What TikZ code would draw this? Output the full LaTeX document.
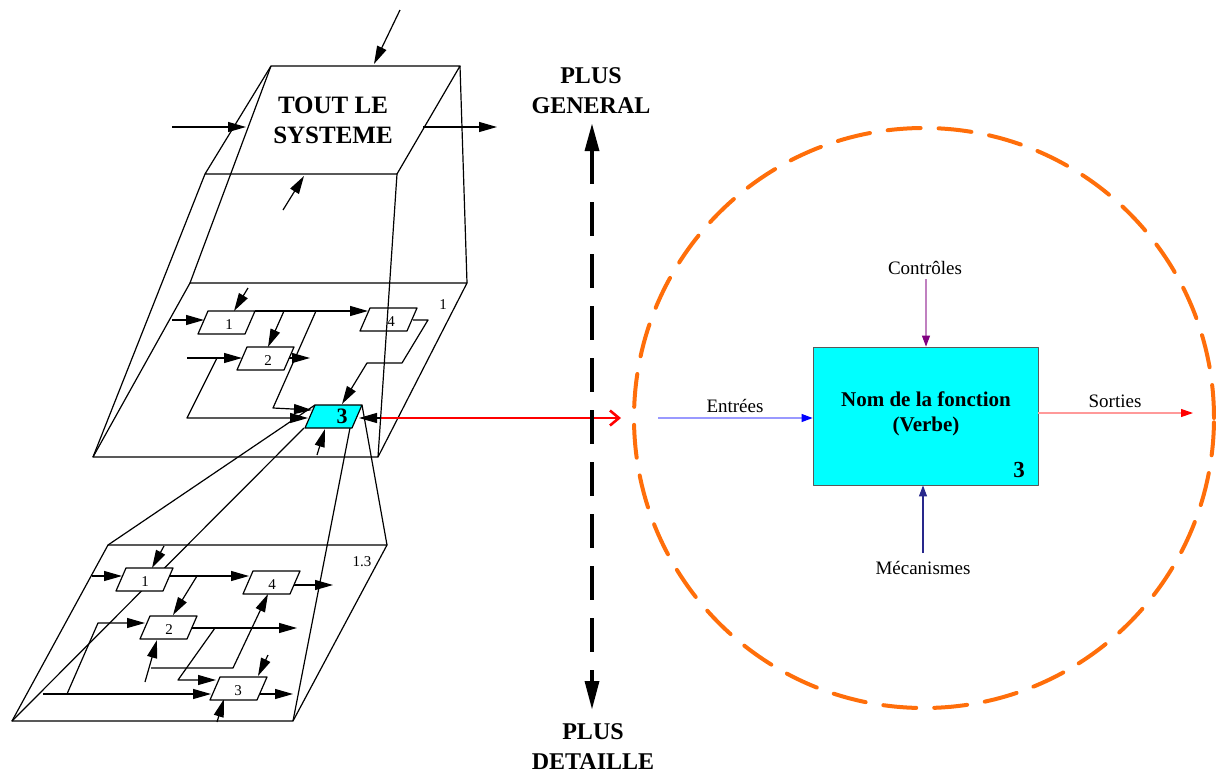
\documentclass[tikz,border=0pt]{standalone}
\usepackage{fontspec}
\setmainfont{Liberation Serif}
\usetikzlibrary{arrows.meta}
\definecolor{orng}{RGB}{255,110,10}
\definecolor{cyanf}{RGB}{0,255,255}
\definecolor{navyl}{RGB}{40,40,140}
\definecolor{purp}{RGB}{128,0,128}
\newcommand\pgbox[3][white]{\draw[line width=1.2pt,fill=#1] (#2,#3) -- ++(47,0) -- ++(-10,23) -- ++(-47,0) -- cycle;}
\begin{document}
\begin{tikzpicture}[x=1pt,y=-1pt,line join=round,
  pl/.style={line width=1.2pt},
  arr/.style={line width=1.2pt,-{Triangle[length=18pt,width=10pt]}},
  dig/.style={font=\fontsize{15}{17}\selectfont,inner sep=0pt},
  big/.style={font=\fontsize{24}{30}\selectfont\bfseries,align=center,inner sep=0pt},
  rt/.style={font=\fontsize{19}{22}\selectfont,inner sep=0pt},
  thin/.style={line width=1.1pt}]
\useasboundingbox (0,0) rectangle (1216,774);

% ---------- planes ----------
\draw[pl] (190,283) -- (467,283) -- (378,457) -- (93,457) -- cycle;
\draw[pl] (108,545) -- (387,545) -- (293,721) -- (12,721) -- cycle;
\node[dig] (lab1) at (443,305) {1};
\node[dig] (lab13) at (362,562) {1.3};

% ---------- frustum box 3 -> lower plane ----------
\draw[pl] (315,405) -- (108,545);
\draw[pl] (304,428) -- (12,721);
\draw[pl] (350,428) -- (293,721);
\draw[pl] (362,405) -- (387,545);

% ---------- lower plane arrows ----------
\draw[arr] (164,546) -- (152,568);
\draw[arr] (92,576) -- (122,576);
\draw[arr] (170,576) -- (249,576);
\draw[arr] (197,576) -- (173,615);
\draw[arr] (292,585) -- (333,585);
\draw[arr] (190,628) -- (297,628);
\draw[arr] (215,628) -- (178,680) -- (216,680);
\draw[arr] (43,694) -- (211,694);
\draw[arr] (67,694) -- (98,623) -- (145,623);
\draw[arr] (145,682) -- (157,640);
\draw[arr] (151,668) -- (233,668) -- (268,594);
\draw[arr] (268,655) -- (258,676);
\draw[arr] (256,694) -- (293,694);
\draw[arr] (217,722) -- (224,699);
% lower boxes
\pgbox{126}{568} \node[dig] (l1) at (145,582) {1};
\pgbox{253}{571} \node[dig] (l4) at (272,585) {4};
\pgbox{150}{616} \node[dig] (l2) at (169,630) {2};
\pgbox{220}{677} \node[dig] (l3) at (238,691) {3};

% ---------- middle plane arrows ----------
\draw[arr] (248,288) -- (234,311);
\draw[arr] (172,320) -- (204,320);
\draw[arr] (255,311) -- (368,311);
\draw[arr] (284,311) -- (268,347);
\draw[arr] (316,311) -- (273,408) -- (312,410);
\draw[arr] (187,358) -- (242,358);
\draw[arr] (217,358) -- (187,418) -- (308,418);
\draw[arr] (288,358) -- (310,358);
\draw[arr] (413,320) -- (428,320) -- (402,363) -- (367,363) -- (342,404);
\draw[arr] (317,455) -- (325,429);
% middle boxes
\pgbox{208}{311} \node[dig] (m1) at (229,325) {1};
\pgbox{370}{308} \node[dig] (m4) at (391,322) {4};
\pgbox{247}{347} \node[dig] (m2) at (268,361) {2};
\pgbox[cyanf]{315}{405}
\node[font=\fontsize{22}{24}\selectfont\bfseries,inner sep=0pt] (m3) at (342,416) {3};

% ---------- red link ----------
\draw[red,line width=2.6pt,-{Straight Barb[length=9pt,width=15pt]}] (378,418) -- (621,418);
\draw[arr] (381,418) -- (359,418);

% ---------- top box ----------
\draw[pl,fill=white] (271,66) -- (460,66) -- (397,174) -- (205,174) -- cycle;
\node[font=\fontsize{25}{30}\selectfont\bfseries,align=center,inner sep=0pt] (top) at (333,120) {TOUT LE\\SYSTEME};
\draw[arr] (400,10) -- (374,64);
\draw[arr] (172,127) -- (246,127);
\draw[arr] (423,127) -- (497,127);
\draw[arr] (283,210) -- (304,176);
% frustum top -> middle
\draw[pl] (271,66) -- (190,283);
\draw[pl] (205,174) -- (93,457);
\draw[pl] (460,66) -- (467,283);
\draw[pl] (397,174) -- (378,457);

% ---------- vertical dashed arrow ----------
\coordinate (gb) at (592,150);
\coordinate (dt) at (592,682);
\draw[line width=4pt,dash pattern=on 34pt off 18pt] (gb) -- (dt);
\fill (592,124) -- (599.5,151) -- (584.5,151) -- cycle;
\fill (592,709) -- (599.5,681) -- (584.5,681) -- cycle;
\node[big] (gen) at (591,91) {PLUS\\GENERAL};
\node[big] (det) at (593,747) {PLUS\\DETAILLE};

% ---------- right side ----------
\draw[orng,line width=4pt,dash pattern=on 33pt off 18pt,line cap=round] (924,418) circle[radius=290pt];
\node[draw=gray!70!black,line width=0.8pt,fill=cyanf,minimum width=225pt,minimum height=138pt,inner sep=0pt] (fn) at (925.5,416) {};
\node[font=\fontsize{21}{25}\selectfont\bfseries,align=center,inner sep=0pt] (fnt) at (926,414) {Nom de la fonction\\(Verbe)};
\node[font=\fontsize{23}{26}\selectfont\bfseries,inner sep=0pt] (fnn) at (1019,470) {3};

\coordinate (ctlS) at (926,279);
\coordinate (mecS) at (923,553);
\coordinate (entS) at (658,418);
\coordinate (sorE) at (1193,413);
\draw[thin,purp!50,-{Triangle[length=11pt,width=8pt,color=purp]}] (ctlS) -- (ctlS |- fn.north);
\draw[thin,navyl,-{Triangle[length=11pt,width=8pt,color=navyl]}] (mecS) -- (mecS |- fn.south);
\draw[thin,blue!40,-{Triangle[length=11pt,width=8pt,color=blue]}] (entS) -- (entS -| fn.west);
\draw[thin,red!40,-{Triangle[length=12pt,width=8pt,color=red]}] (sorE -| fn.east) -- (sorE);
\node[rt] (ctl) at (925,268) {Contrôles};
\node[rt] (mec) at (923,568) {Mécanismes};
\node[rt] (ent) at (735,406) {Entrées};
\node[rt] (sor) at (1115,401) {Sorties};
\end{tikzpicture}
\end{document}
